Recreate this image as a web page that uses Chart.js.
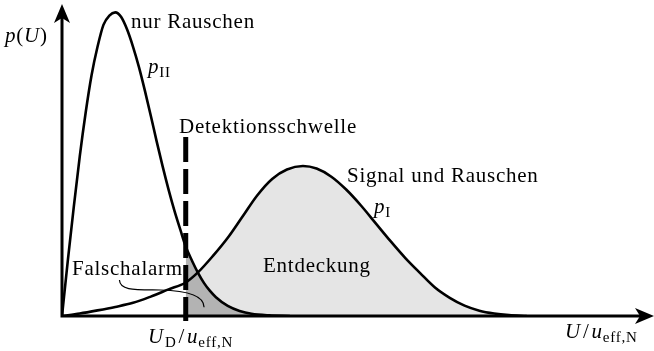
<!DOCTYPE html>
<html>
<head>
<meta charset="utf-8">
<script src="https://cdn.jsdelivr.net/npm/chart.js@4.4.1/dist/chart.umd.min.js"></script>
<style>
  html, body { margin: 0; padding: 0; background: #fff; }
  canvas { display: block; }
</style>
</head>
<body>
<canvas id="chart" width="654" height="351"></canvas>
<script>
// x: U/u_eff,N, y: p(U)
var noiseX = [0.00, 0.10, 0.20, 0.30, 0.40, 0.50, 0.60, 0.70, 0.80, 0.90, 1.00, 1.10, 1.20, 1.30, 1.40, 1.50, 1.60, 1.70, 1.80, 1.90, 2.00, 2.09, 2.20, 2.30, 2.40, 2.50, 2.60, 2.80, 3.00, 3.20, 3.50, 3.85];
var noiseY = [0.00, 0.18, 0.35, 0.51, 0.65, 0.77, 0.86, 0.93, 0.96, 0.97, 0.955, 0.915, 0.86, 0.795, 0.72, 0.64, 0.557, 0.478, 0.404, 0.336, 0.275, 0.222, 0.175, 0.137, 0.105, 0.080, 0.060, 0.032, 0.016, 0.007, 0.002, 0.00];
var signalX = [0.00, 0.30, 0.60, 0.90, 1.20, 1.50, 1.80, 2.09, 2.30, 2.55, 2.80, 3.05, 3.30, 3.55, 3.80, 4.07, 4.30, 4.55, 4.80, 5.05, 5.30, 5.55, 5.80, 6.05, 6.30, 6.55, 6.80, 7.05, 7.30, 7.55, 7.85];
var signalY = [0.00, 0.008, 0.018, 0.029, 0.042, 0.062, 0.085, 0.107, 0.140, 0.192, 0.250, 0.318, 0.386, 0.438, 0.468, 0.479, 0.471, 0.445, 0.404, 0.353, 0.296, 0.239, 0.185, 0.137, 0.091, 0.058, 0.033, 0.017, 0.008, 0.003, 0.00];
var threshold = 2.09;
var thresholdTop = 0.572;
var thresholdBottom = -0.016;

var serif = "'Liberation Serif', 'DejaVu Serif', serif";

function toPoints(xs, ys) {
    var result = [];
    for (let i = 0; i < xs.length; i++) {
        result.push({ x: xs[i], y: ys[i] });
    }
    return result;
}

function fromThreshold(points) {
    return points.filter(p => p.x >= threshold);
}

var noisePoints = toPoints(noiseX, noiseY);
var signalPoints = toPoints(signalX, signalY);

// draws a row of text pieces: [text, italic, size, dy, extra gap after]
function mathText(ctx, parts, x, y) {
    parts.forEach(part => {
        ctx.font = (part[1] ? 'italic ' : '') + part[2] + 'px ' + serif;
        ctx.fillText(part[0], x, y + (part[3] || 0));
        x += ctx.measureText(part[0]).width + (part[4] || 0);
    });
}

function arrowHead(ctx, tx, ty, angle) {
    ctx.save();
    ctx.translate(tx, ty);
    ctx.rotate(angle);
    ctx.beginPath();
    ctx.moveTo(0, 0);
    ctx.lineTo(-19, -8);
    ctx.lineTo(-14, 0);
    ctx.lineTo(-19, 8);
    ctx.closePath();
    ctx.fill();
    ctx.restore();
}

var overlay = {
    id: 'overlay',
    afterDatasetsDraw(chart) {
        var ctx = chart.ctx;
        var xs = chart.scales.x, ys = chart.scales.y;
        var x0 = xs.getPixelForValue(0), y0 = ys.getPixelForValue(0);
        ctx.save();
        ctx.strokeStyle = '#000';
        ctx.fillStyle = '#000';
        ctx.lineWidth = 3;
        ctx.lineCap = 'butt';
        // axes
        ctx.beginPath();
        ctx.moveTo(x0 - 1.5, y0);
        ctx.lineTo(chart.width - 10, y0);
        ctx.moveTo(x0, y0 + 1.5);
        ctx.lineTo(x0, chart.chartArea.top + 14);
        ctx.stroke();
        arrowHead(ctx, chart.width, y0, 0);
        arrowHead(ctx, x0, chart.chartArea.top + 1, -Math.PI / 2);

        // leader from "Falschalarm" into the dark area
        ctx.lineWidth = 1.2;
        ctx.beginPath();
        ctx.moveTo(xs.getPixelForValue(0.97), ys.getPixelForValue(0.115));
        ctx.bezierCurveTo(xs.getPixelForValue(0.98), ys.getPixelForValue(0.08),
            xs.getPixelForValue(1.25), ys.getPixelForValue(0.084),
            xs.getPixelForValue(1.66), ys.getPixelForValue(0.083));
        ctx.bezierCurveTo(xs.getPixelForValue(2.12), ys.getPixelForValue(0.081),
            xs.getPixelForValue(2.40), ys.getPixelForValue(0.066),
            xs.getPixelForValue(2.40), ys.getPixelForValue(0.028));
        ctx.stroke();
        ctx.restore();
    },
    afterDraw(chart) {
        var ctx = chart.ctx;
        ctx.save();
        ctx.fillStyle = '#000';
        ctx.textBaseline = 'alphabetic';
        ctx.letterSpacing = '0.75px';
        ctx.font = '21px ' + serif;
        ctx.fillText('nur Rauschen', 131, 28);
        ctx.fillText('Detektionsschwelle', 179, 133);
        ctx.fillText('Signal und Rauschen', 347, 182);
        ctx.fillText('Entdeckung', 263, 272);
        ctx.fillText('Falschalarm', 72, 275);

        mathText(ctx, [['p', true, 21], ['(', false, 21], ['U', true, 21], [')', false, 21]], 5, 42);
        mathText(ctx, [['p', true, 21], ['II', false, 15, 4]], 148, 73);
        mathText(ctx, [['p', true, 21], ['I', false, 15, 4]], 374, 213);
        mathText(ctx, [['U', true, 21, 0, 1], ['D', false, 15, 4, 2], ['/', false, 21, 0, 2], ['u', true, 21], ['eff,N', false, 15, 4]], 148, 343);
        mathText(ctx, [['U', true, 21, 0, 2], ['/', false, 21, 0, 2], ['u', true, 21], ['eff,N', false, 15, 4]], 565, 338);
        ctx.restore();
    }
};

var ctx = document.getElementById('chart');
var myChart = new Chart(ctx, {
    type: 'line',
    data: {
        datasets: [
            {
                label: 'Entdeckung',
                data: fromThreshold(signalPoints),
                borderWidth: 0,
                pointRadius: 0,
                fill: 'origin',
                backgroundColor: '#e5e5e5',
                cubicInterpolationMode: 'monotone',
                order: 4,
            },
            {
                label: 'Falschalarm',
                data: fromThreshold(noisePoints),
                borderWidth: 0,
                pointRadius: 0,
                fill: 'origin',
                backgroundColor: '#b3b3b3',
                cubicInterpolationMode: 'monotone',
                order: 3,
            },
            {
                label: 'p_I',
                data: signalPoints,
                borderColor: '#000',
                borderWidth: 2.6,
                pointRadius: 0,
                fill: false,
                cubicInterpolationMode: 'monotone',
                order: 2,
            },
            {
                label: 'p_II',
                data: noisePoints,
                borderColor: '#000',
                borderWidth: 2.6,
                pointRadius: 0,
                fill: false,
                cubicInterpolationMode: 'monotone',
                order: 1,
            },
            {
                label: 'Detektionsschwelle',
                data: [{ x: threshold, y: thresholdTop }, { x: threshold, y: thresholdBottom }],
                borderColor: '#000',
                borderWidth: 5,
                borderDash: [25, 7],
                borderCapStyle: 'butt',
                pointRadius: 0,
                fill: false,
                clip: false,
                order: 0,
            },
        ]
    },
    options: {
        responsive: false,
        animation: false,
        devicePixelRatio: 1,
        layout: { padding: { left: 62, right: 0, top: 3, bottom: 35 } },
        scales: {
            x: { type: 'linear', min: 0, max: 10, display: false },
            y: { type: 'linear', min: 0, max: 1, display: false },
        },
        plugins: {
            legend: { display: false },
            tooltip: { enabled: false },
        },
    },
    plugins: [overlay],
});
</script>
</body>
</html>
